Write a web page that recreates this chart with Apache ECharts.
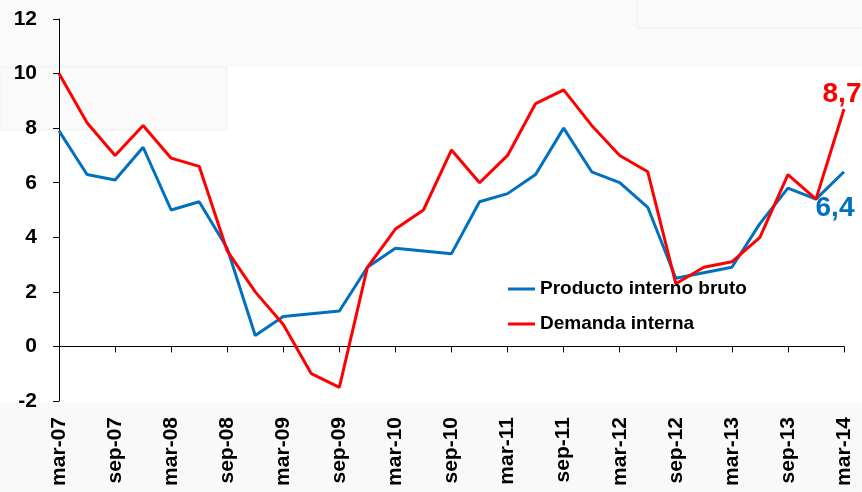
<!DOCTYPE html>
<html>
<head>
<meta charset="utf-8">
<script src="https://cdn.jsdelivr.net/npm/echarts@6/dist/echarts.min.js"></script>
<style>
  html, body { margin: 0; padding: 0; background: #fff; }
  #main { width: 862px; height: 492px; }
</style>
</head>
<body>
<div id="main"></div>
<script>
// quarterly, mar-07 .. mar-14
var quarters = [
  'mar-07','jun-07','sep-07','dic-07','mar-08','jun-08','sep-08','dic-08',
  'mar-09','jun-09','sep-09','dic-09','mar-10','jun-10','sep-10','dic-10',
  'mar-11','jun-11','sep-11','dic-11','mar-12','jun-12','sep-12','dic-12',
  'mar-13','jun-13','sep-13','dic-13','mar-14'
];
var pib = [7.9, 6.3, 6.1, 7.3, 5.0, 5.3, 3.6, 0.4, 1.1, 1.2, 1.3, 2.9, 3.6, 3.5, 3.4, 5.3,
           5.6, 6.3, 8.0, 6.4, 6.0, 5.1, 2.5, 2.7, 2.9, 4.5, 5.8, 5.4, 6.4];
var demanda = [10.0, 8.2, 7.0, 8.1, 6.9, 6.6, 3.5, 2.0, 0.8, -1.0, -1.5, 2.9, 4.3, 5.0, 7.2, 6.0,
               7.0, 8.9, 9.4, 8.1, 7.0, 6.4, 2.3, 2.9, 3.1, 4.0, 6.3, 5.4, 8.7];
var yTicks = { min: -2, max: 12, step: 2 };

var font = 'Liberation Sans, Arial, sans-serif';

// only the last point gets a value label
function withLastLabel(values, color, pos, dist, off) {
  return values.map(function (v, i) {
    if (i !== values.length - 1) return v;
    return {
      value: v,
      label: {
        show: true, position: pos, distance: dist, offset: off,
        color: color, fontSize: 28, fontWeight: 'bold', fontFamily: font,
        formatter: function (p) { return String(p.value).replace('.', ','); }
      }
    };
  });
}

var chart = echarts.init(document.getElementById('main'));
chart.setOption({
  backgroundColor: '#ffffff',
  animation: false,
  graphic: [
    { type: 'rect', z: -10, shape: { x: 0, y: 0, width: 862, height: 67 }, style: { fill: '#fafafa' } },
    { type: 'rect', z: -10, shape: { x: 0, y: 67, width: 227, height: 63 }, style: { fill: '#fafafa', stroke: '#efefef', lineWidth: 1 } },
    { type: 'rect', z: -9, shape: { x: 637, y: -2, width: 230, height: 30 }, style: { fill: '#fafafa', stroke: '#eeeeee', lineWidth: 1 } },
    { type: 'rect', z: -10, shape: { x: 0, y: 403, width: 862, height: 89 }, style: { fill: '#f9f9f9' } }
  ],
  grid: { left: 59, right: 18, top: 19, bottom: 91, containLabel: false },
  legend: {
    orient: 'vertical',
    left: 503, top: 274,
    icon: 'rect',
    itemWidth: 27, itemHeight: 3, itemGap: 15,
    textStyle: { color: '#000', fontSize: 19, fontWeight: 'bold', fontFamily: font, lineHeight: 20 },
    data: ['Producto interno bruto', 'Demanda interna']
  },
  xAxis: [
    {
      type: 'category', data: quarters, boundaryGap: false, position: 'bottom',
      axisLine: { show: false, onZero: false },
      axisTick: { show: false },
      axisLabel: {
        interval: 1, rotate: 90, margin: 16,
        color: '#000', fontSize: 21, fontWeight: 'bold', fontFamily: font
      },
      splitLine: { show: false }
    },
    {
      type: 'category', data: quarters, boundaryGap: false, position: 'top',
      axisLine: { show: true, onZero: true, lineStyle: { color: '#000', width: 1 } },
      axisTick: { show: true, inside: true, length: 6, interval: 1, lineStyle: { color: '#000' } },
      axisLabel: { show: false },
      splitLine: { show: false }
    }
  ],
  yAxis: {
    type: 'value', min: yTicks.min, max: yTicks.max, interval: yTicks.step,
    axisLine: { show: true, lineStyle: { color: '#000', width: 1 } },
    axisTick: { show: true, length: 6, lineStyle: { color: '#000' } },
    axisLabel: { margin: 22, color: '#000', fontSize: 21, fontWeight: 'bold', fontFamily: font },
    splitLine: { show: false }
  },
  series: [
    {
      name: 'Producto interno bruto', type: 'line', xAxisIndex: 0,
      data: withLastLabel(pib, '#0070C0', 'bottom', 22, [-9, 0]),
      symbol: 'circle', symbolSize: 0, showSymbol: true, showAllSymbol: true, color: '#0070C0',
      lineStyle: { color: '#0070C0', width: 3 }
    },
    {
      name: 'Demanda interna', type: 'line', xAxisIndex: 0,
      data: withLastLabel(demanda, '#FF0000', 'top', 1, [-2, 0]),
      symbol: 'circle', symbolSize: 0, showSymbol: true, showAllSymbol: true, color: '#FF0000',
      lineStyle: { color: '#FF0000', width: 3 }
    }
  ]
});
</script>
</body>
</html>
